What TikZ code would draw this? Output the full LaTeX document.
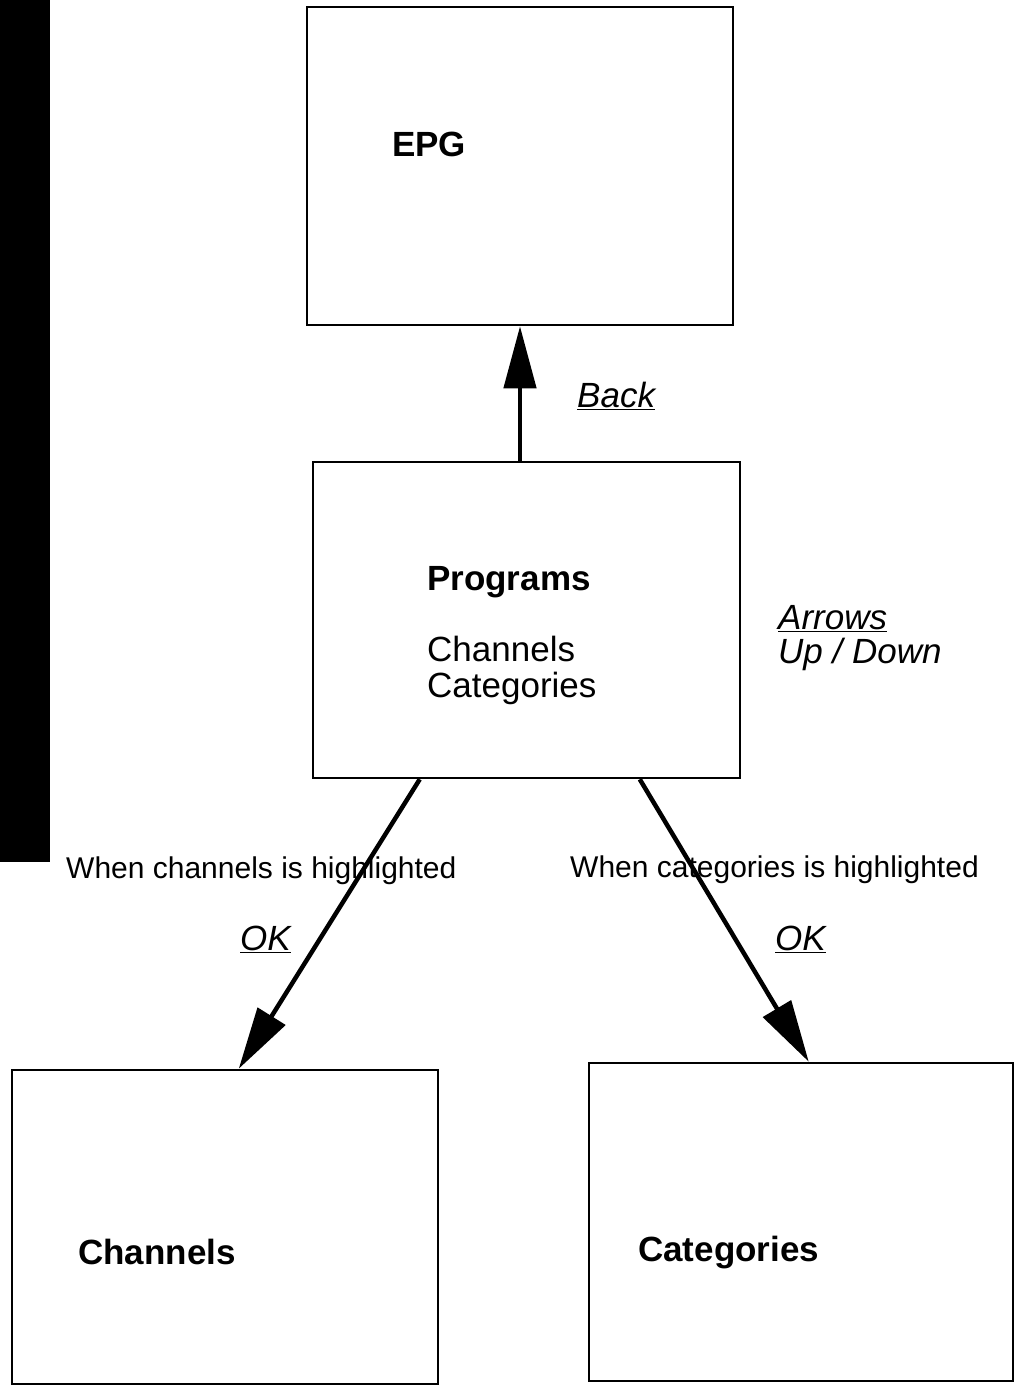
\documentclass[tikz,border=0pt]{standalone}
\usepackage{fontspec}
\setmainfont{Liberation Sans}
\usetikzlibrary{arrows.meta,positioning,calc}

\begin{document}
\begin{tikzpicture}[
    x=1pt, y=-1pt,
    screen/.style={draw, line width=2.5pt, inner sep=0pt},
    title/.style={anchor=base west, inner sep=0pt, font=\fontsize{35}{42}\selectfont\bfseries},
    entry/.style={anchor=base west, inner sep=0pt, font=\fontsize{35}{42}\selectfont},
    key/.style={anchor=base west, inner sep=0pt, font=\fontsize{35}{42}\selectfont\itshape},
    note/.style={anchor=base west, inner sep=0pt, font=\fontsize{30}{36}\selectfont},
    move/.style={line width=4.5pt, -{Triangle[length=62pt,width=32pt]}}
]
\useasboundingbox (0,0) rectangle (1026,1385);

% Scan edge on the left
\fill [black] (0,0) rectangle (50,862);

% Screens
\node (epg) at (520,166) [screen, minimum width=426pt, minimum height=318pt] {};
\node (prog) at (526.5,620) [screen, minimum width=427pt, minimum height=316pt] {};
\node (chan) at (225,1227) [screen, minimum width=426pt, minimum height=314pt] {};
\node (cat) at (801,1222) [screen, minimum width=424pt, minimum height=318pt] {};

% Screen titles
\node (epgtitle) at (392,156) [title] {EPG};
\node (progtitle) at (427,590) [title] {Programs};
\node (progchan) at (427,661) [entry] {Channels};
\node (progcat) at (427,697) [entry] {Categories};
\node (chantitle) at (78,1264) [title] {Channels};
\node (cattitle) at (638,1261) [title] {Categories};

% Keys
\node (back) at (577,407) [key] {\underline{Back}};
\node (arrows) at (778,629) [key] {\underline{Arrows}};
\node (updown) at (778,663) [key] {Up / Down};
\node (okchan) at (240,950) [key] {\underline{OK}};
\node (okcat) at (775,950) [key] {\underline{OK}};

% Conditions
\node (whenchan) at (66,878) [note] {When channels is highlighted};
\node (whencat) at (570,877) [note] {When categories is highlighted};

% Transitions
\draw [move] (epg.south |- prog.north) -- (epg.south);
\draw [move] ([xshift=108pt]prog.south west) -- ([xshift=228pt]chan.north west);
\draw [move] ([xshift=328pt]prog.south west) -- ([xshift=221pt]cat.north west);

\end{tikzpicture}
\end{document}
